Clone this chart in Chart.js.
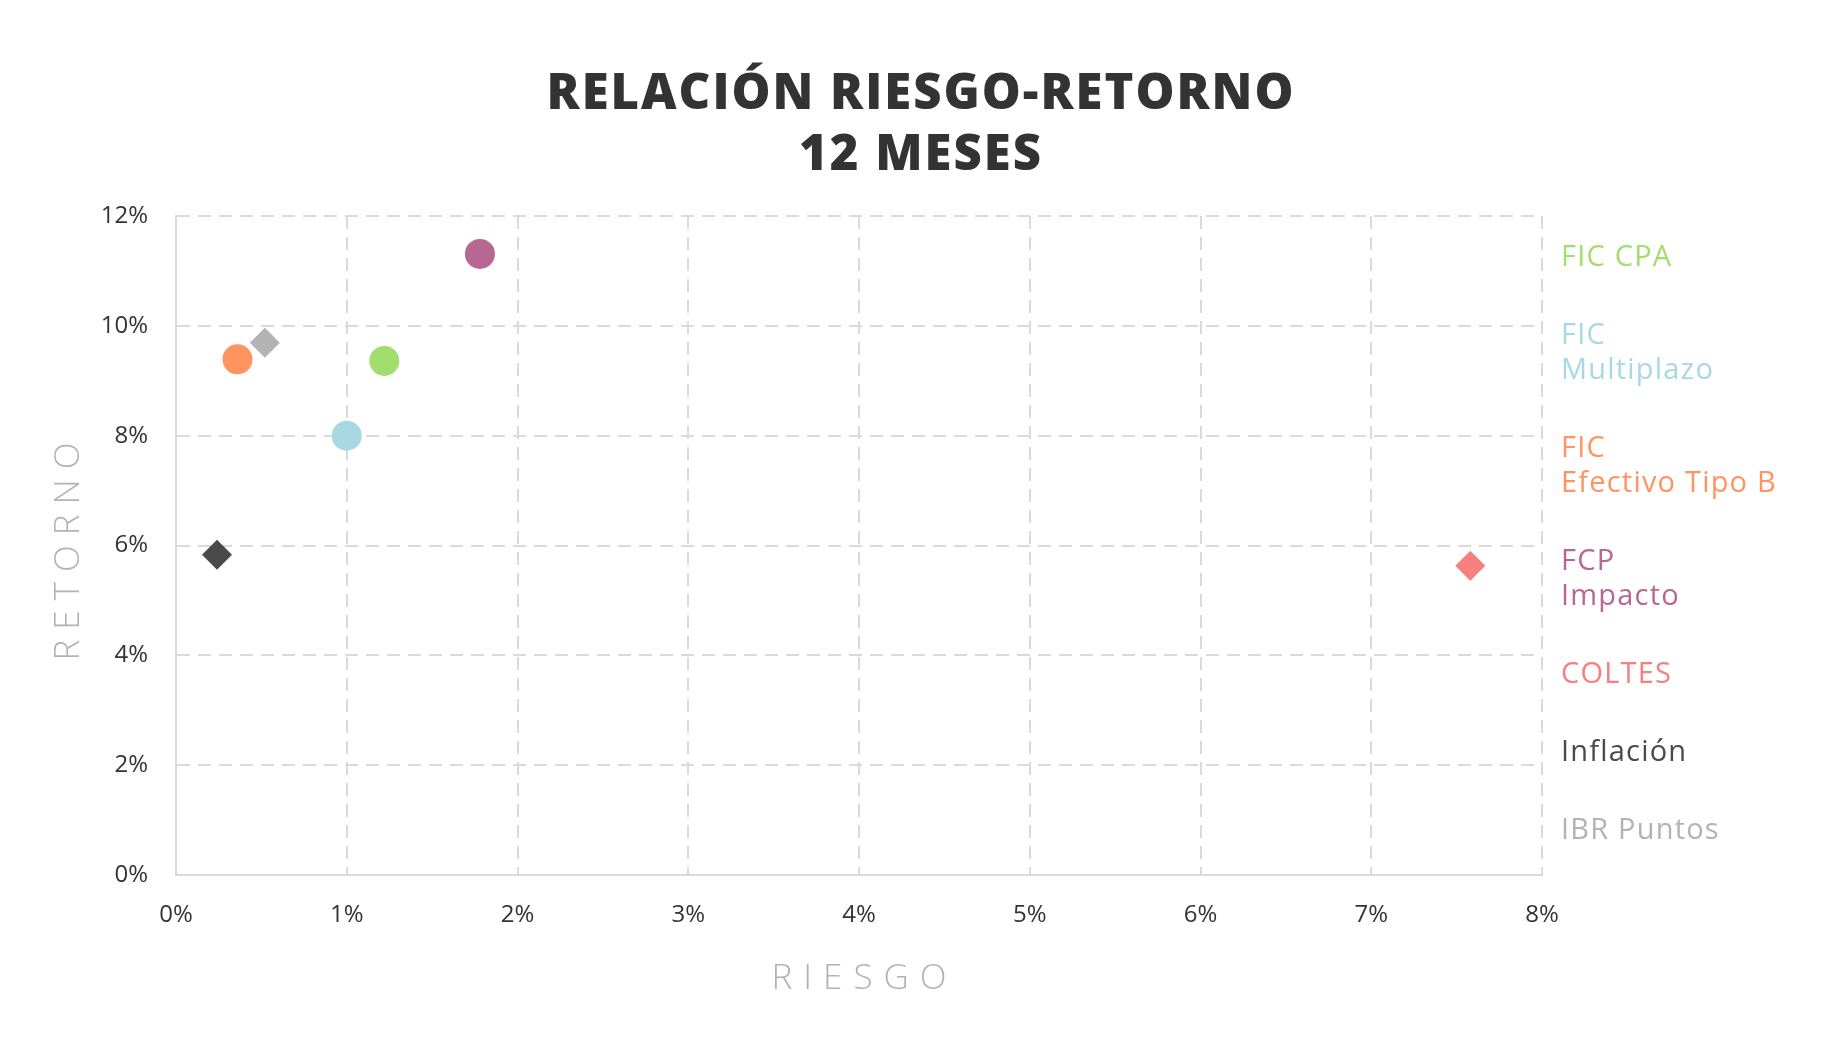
<!DOCTYPE html>
<html>
<head>
<meta charset="utf-8">
<script src="https://cdn.jsdelivr.net/npm/chart.js@4.4.1/dist/chart.umd.min.js"></script>
<style>
  html, body { margin: 0; padding: 0; background: #ffffff; }
  #wrap { width: 1840px; height: 1056px; }
</style>
</head>
<body>
<div id="wrap"><canvas id="chart"></canvas></div>
<script>
/* Relación riesgo-retorno 12 meses */

// Datos (en %)
const fundNames = ['FIC CPA', 'FIC Multiplazo', 'FIC Efectivo Tipo B', 'FCP Impacto', 'COLTES', 'Inflación', 'IBR Puntos'];
const legendLines = [['FIC CPA'], ['FIC', 'Multiplazo'], ['FIC', 'Efectivo Tipo B'], ['FCP', 'Impacto'], ['COLTES'], ['Inflación'], ['IBR Puntos']];
const riskValues = [1.22, 1.0, 0.36, 1.78, 7.58, 0.24, 0.52];
const returnValues = [9.36, 8.0, 9.39, 11.31, 5.63, 5.83, 9.69];
const pointShapes = ['circle', 'circle', 'circle', 'circle', 'rectRot', 'rectRot', 'rectRot'];
const titleLines = ['RELACIÓN RIESGO-RETORNO', '12 MESES'];
const xAxisTitle = 'RIESGO';
const yAxisTitle = 'RETORNO';

// Couleurs
const colors = {
    series: ['#a2de6e', '#a8d8e3', '#ff9460', '#b86792', '#f67f7f', '#4a4a4a', '#b3b3b3'],
    title: '#333333',
    ticks: '#333333',
    axisTitle: '#b3b3b3',
    grid: '#dadada'
};

const FONT = "'Open Sans', 'DejaVu Sans', sans-serif";

// Título centrado en todo el lienzo, títulos de ejes y leyenda a la derecha
const sidePlugin = {
    id: 'sideLabels',
    afterDraw(chart) {
        const ctx = chart.ctx;
        const area = chart.chartArea;
        ctx.save();
        ctx.textBaseline = 'middle';
        ctx.textAlign = 'left';

        const drawSpaced = (text, cx, cy, angle, spacing) => {
            ctx.letterSpacing = spacing + 'px';
            const w = ctx.measureText(text).width - spacing;
            ctx.save();
            ctx.translate(cx, cy);
            ctx.rotate(angle);
            ctx.fillText(text, -w / 2, 0);
            ctx.restore();
        };

        // Título
        ctx.font = '800 49px ' + FONT;
        ctx.fillStyle = colors.title;
        titleLines.forEach((line, i) => {
            drawSpaced(line, chart.width / 2, 95 + i * 61, 0, 2);
        });

        // Títulos de ejes con espaciado de letras
        ctx.font = '300 35px ' + FONT;
        ctx.fillStyle = colors.axisTitle;
        drawSpaced(xAxisTitle, (area.left + area.right) / 2, area.bottom + 104, 0, 11);
        drawSpaced(yAxisTitle, 69, (area.top + area.bottom) / 2 + 6, -Math.PI / 2, 10);

        // Leyenda
        const lineStep = 35;
        const itemStep = 78;
        let span = 0;
        legendLines.forEach((lines, i) => {
            span += (lines.length - 1) * lineStep;
            if (i < legendLines.length - 1) span += itemStep;
        });
        let y = (area.top + area.bottom) / 2 - 1 - span / 2;
        ctx.font = '400 29px ' + FONT;
        ctx.letterSpacing = '1.2px';
        legendLines.forEach((lines, i) => {
            ctx.fillStyle = colors.series[i];
            lines.forEach((line, j) => {
                ctx.fillText(line, area.right + 19, y);
                if (j < lines.length - 1) y += lineStep;
            });
            y += itemStep;
        });
        ctx.restore();
    }
};

const datasets = fundNames.map((name, i) => ({
    label: name,
    data: [{ x: riskValues[i], y: returnValues[i] }],
    backgroundColor: colors.series[i],
    borderColor: colors.series[i],
    borderWidth: 0,
    pointStyle: pointShapes[i],
    pointRadius: 15,
    pointHoverRadius: 15
}));

new Chart(document.getElementById('chart'), {
    type: 'scatter',
    data: { datasets: datasets },
    options: {
        responsive: true,
        maintainAspectRatio: false,
        animation: false,
        layout: {
            padding: { left: 100, right: 298, top: 216, bottom: 121 }
        },
        plugins: {
            legend: { display: false },
            tooltip: { enabled: false },
            title: { display: false }
        },
        scales: {
            x: {
                type: 'linear',
                min: 0,
                max: 8,
                afterFit: (scale) => { scale.height = 60; },
                ticks: {
                    stepSize: 1,
                    padding: 26,
                    maxRotation: 0,
                    color: colors.ticks,
                    font: { family: FONT, size: 24 },
                    callback: (v) => v + '%'
                },
                grid: { color: colors.grid, lineWidth: 2, drawTicks: false },
                border: { display: true, color: colors.grid, width: 2, dash: [13, 8] }
            },
            y: {
                type: 'linear',
                min: 0,
                max: 12,
                afterFit: (scale) => { scale.width = 76; },
                ticks: {
                    stepSize: 2,
                    padding: 28,
                    color: colors.ticks,
                    font: { family: FONT, size: 24 },
                    callback: (v) => v + '%'
                },
                grid: { color: colors.grid, lineWidth: 2, drawTicks: false },
                border: { display: true, color: colors.grid, width: 2, dash: [13, 8] }
            }
        }
    },
    plugins: [sidePlugin]
});
</script>
</body>
</html>
